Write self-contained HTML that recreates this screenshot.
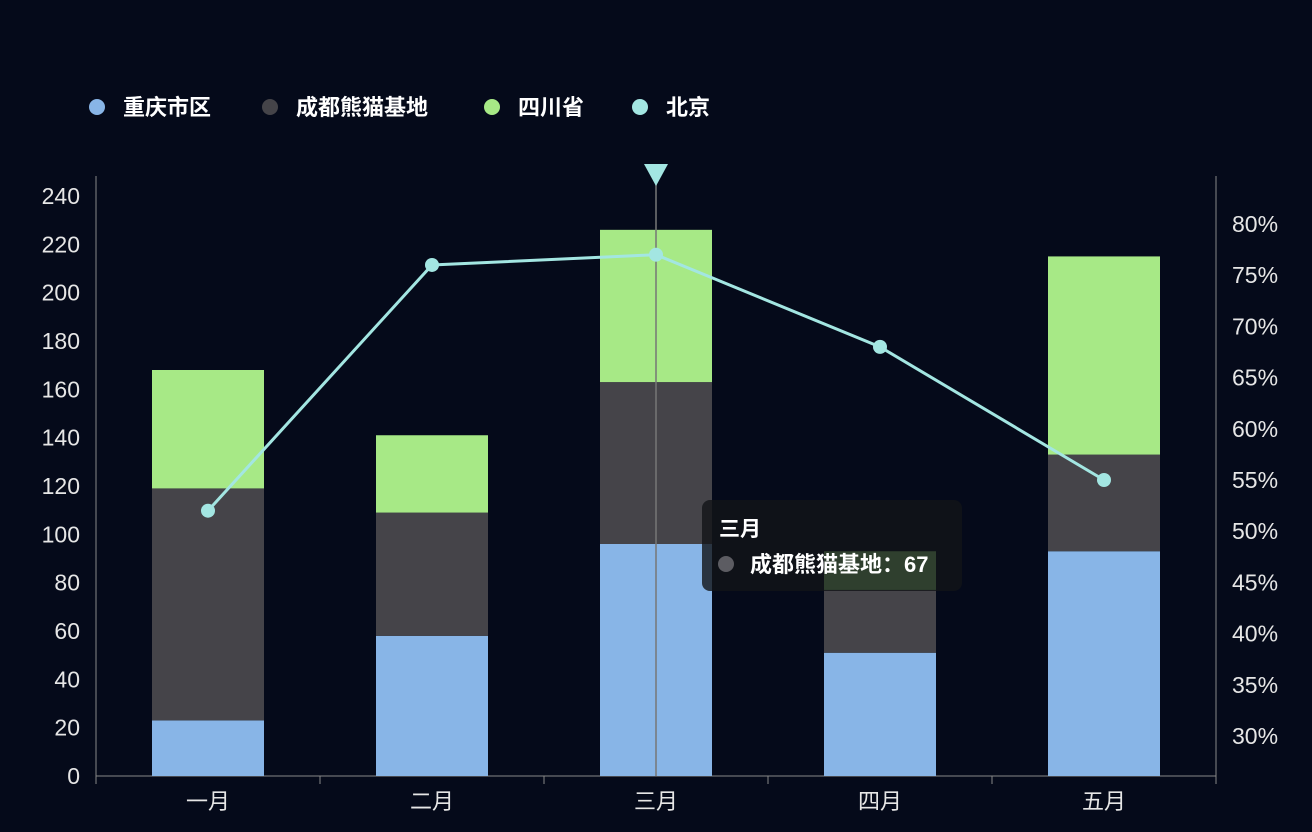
<!DOCTYPE html>
<html><head><meta charset="utf-8">
<style>
html,body{margin:0;padding:0;background:#050a1a;width:1312px;height:832px;overflow:hidden}
svg{display:block}
text{font-family:"Liberation Sans","Noto Sans CJK SC",sans-serif}
</style></head>
<body>
<svg id="chart" width="1312" height="832" xmlns="http://www.w3.org/2000/svg">
<rect x="0" y="0" width="1312" height="832" fill="#050a1a"/>
</svg>
<script>
const categories=['一月','二月','三月','四月','五月'];
const seriesNames=['重庆市区','成都熊猫基地','四川省','北京'];
const chongqing=[23,58,96,51,93];
const chengdu=[96,51,67,26,40];
const sichuan=[49,32,63,16,82];
const beijing=[52,76,77,68,55];
const leftTicks=[0,20,40,60,80,100,120,140,160,180,200,220,240];
const rightTicks=[30,35,40,45,50,55,60,65,70,75,80];
const colors=['#88b5e7','#454449','#a7e986','#a3e6e2'];

const svg=document.getElementById('chart');
const NS='http://www.w3.org/2000/svg';
function mk(tag,attrs,parent){const e=document.createElementNS(NS,tag);for(const k in attrs)e.setAttribute(k,attrs[k]);(parent||svg).appendChild(e);return e;}
const x0=96,x1=1216,yb=776;
const band=(x1-x0)/categories.length;
const xc=i=>x0+band*(i+0.5);
const yL=v=>yb-v*(580/240);
const yR=p=>736-(p-30)*10.24;

let a=mk('line',{x1:x0,y1:176,x2:x0,y2:yb,stroke:'#888',"stroke-width":1});

a=mk('line',{x1:x1,y1:176,x2:x1,y2:yb,stroke:'#888',"stroke-width":1});

a=mk('line',{x1:x0,y1:yb,x2:x1,y2:yb,stroke:'#888',"stroke-width":1});

leftTicks.forEach(v=>{
 const t=mk('text',{x:80,y:yL(v)+8,"text-anchor":"end",fill:'#e6e6e6',"font-size":23});
 t.textContent=v;
 
 
});
rightTicks.forEach(v=>{
 const t=mk('text',{x:1232,y:yR(v)+8,fill:'#e6e6e6',"font-size":23});
 t.textContent=v+'%';
 
 
});
for(let i=0;i<=categories.length;i++){
 const l=mk('line',{x1:x0+band*i,y1:yb,x2:x0+band*i,y2:yb+8,stroke:'#888'});
 
 
}
categories.forEach((c,i)=>{
 const t=mk('text',{x:xc(i),y:809,"text-anchor":"middle",fill:'#e6e6e6',"font-size":22});
 t.textContent=c;
 
 
});
const stacks=[chongqing,chengdu,sichuan];
categories.forEach((c,i)=>{
 let base=0;
 stacks.forEach((s,k)=>{
  const top=base+s[i];
  const r=mk('rect',{x:xc(i)-56,y:yL(top),width:112,height:yL(base)-yL(top),fill:colors[k]});
  
  
  base=top;
 });
});
const px=xc(2);
a=mk('line',{x1:px,y1:180,x2:px,y2:yb,stroke:'#777',"stroke-width":1.5});

a=mk('polygon',{points:(px-12)+',164 '+(px+12)+',164 '+px+',186',fill:'#a3e6e2'});

const pts=beijing.map((v,i)=>xc(i)+','+yR(v)).join(' ');
a=mk('polyline',{points:pts,fill:'none',stroke:colors[3],"stroke-width":3});

beijing.forEach((v,i)=>{
 const c=mk('circle',{cx:xc(i),cy:yR(v),r:7,fill:colors[3]});
 
 
});
const lxs=[97,270,492,640];
seriesNames.forEach((n,k)=>{
 const c=mk('circle',{cx:lxs[k],cy:107,r:8,fill:colors[k]});
 
 
 const t=mk('text',{x:lxs[k]+26,y:115,fill:'#fff',"font-size":22,"font-weight":"bold"});
 t.textContent=n;
 
 
});
const g=mk('g',{});

mk('rect',{x:702,y:500,width:260,height:91,rx:8,fill:'rgba(18,20,24,0.8)'},g);
let t=mk('text',{x:719,y:536,fill:'#fff',"font-size":21,"font-weight":"bold"},g);t.textContent='三月';
mk('circle',{cx:726,cy:564,r:8,fill:'#5c5c62'},g);
t=mk('text',{x:750,y:572,fill:'#fff',"font-size":22,"font-weight":"bold"},g);t.textContent='成都熊猫基地：67';
</script>
</body></html>
